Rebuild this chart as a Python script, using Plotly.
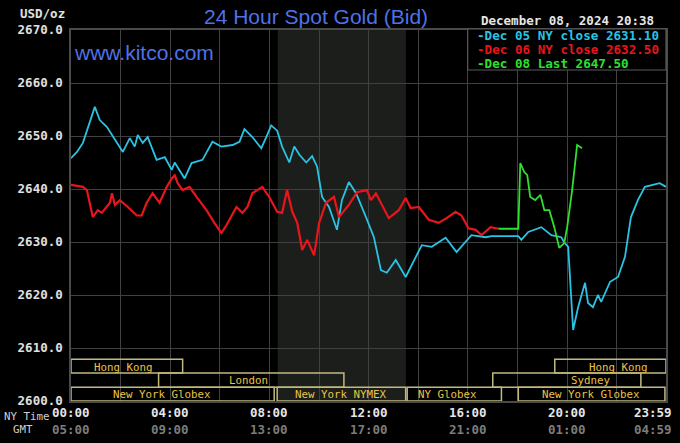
import plotly.graph_objects as go

# ---------------- data (hours since 00:00 NY time, USD/oz) ----------------
cyan_h = [0.00, 0.24, 0.48, 0.68, 0.96, 1.16, 1.45, 2.09, 2.37, 2.57, 2.69, 2.89, 3.09, 3.45, 3.78,
          4.06, 4.18, 4.58, 4.86, 5.30, 5.70, 6.06, 6.51, 6.79, 6.99, 7.31, 7.67, 7.87, 8.07, 8.31,
          8.51, 8.80, 9.00, 9.20, 9.48, 9.72, 9.92, 10.12, 10.40, 10.72, 10.92, 11.20, 11.49, 11.89,
          12.21, 12.49, 12.73, 13.09, 13.49, 13.90, 14.14, 14.54, 15.10, 15.54, 16.14, 16.71, 16.95,
          18.03, 18.15, 18.43, 18.96, 19.36, 19.76, 19.90, 20.04, 20.24, 20.44, 20.72, 20.84, 21.04,
          21.24, 21.37, 21.73, 22.05, 22.33, 22.57, 22.85, 23.13, 23.73, 23.98]
cyan_v = [2645.8, 2647.0, 2648.7, 2651.7, 2655.5, 2653.0, 2651.7, 2647.0, 2649.6, 2648.0, 2650.2, 2648.7,
          2649.8, 2645.5, 2646.0, 2643.6, 2645.0, 2642.0, 2644.9, 2645.5, 2648.9, 2648.0, 2648.3, 2648.9,
          2651.3, 2649.8, 2647.7, 2649.8, 2652.0, 2651.0, 2648.0, 2645.0, 2648.0, 2646.5, 2645.0, 2646.2,
          2644.2, 2638.5, 2636.6, 2632.3, 2637.9, 2641.3, 2639.2, 2634.7, 2630.9, 2624.7, 2624.2, 2626.6,
          2623.4, 2627.2, 2629.4, 2629.1, 2630.8, 2628.1, 2631.3, 2630.9, 2631.1, 2631.1, 2630.4, 2631.9,
          2632.8, 2631.3, 2630.9, 2629.8, 2629.1, 2613.4, 2617.7, 2622.3, 2618.5, 2617.7, 2620.0, 2618.7,
          2622.5, 2623.4, 2627.2, 2634.7, 2637.9, 2640.4, 2641.1, 2640.4]

red_h = [0.00, 0.48, 0.64, 0.88, 1.08, 1.24, 1.57, 1.65, 1.77, 1.97, 2.29, 2.65, 2.85, 3.05, 3.29, 3.57,
         3.86, 4.06, 4.18, 4.30, 4.50, 4.78, 5.06, 5.46, 5.78, 6.06, 6.27, 6.67, 6.91, 7.11, 7.31, 7.71,
         7.99, 8.31, 8.51, 8.71, 8.92, 9.12, 9.32, 9.52, 9.80, 10.00, 10.28, 10.60, 10.80, 11.20, 11.53,
         11.93, 12.09, 12.29, 12.81, 13.21, 13.49, 13.69, 14.02, 14.42, 14.82, 15.14, 15.50, 15.74,
         16.02, 16.31, 16.55, 16.91, 17.23]
red_v = [2640.8, 2640.4, 2639.8, 2634.7, 2636.0, 2635.5, 2637.4, 2639.2, 2637.0, 2637.9, 2636.6, 2635.0,
         2635.0, 2637.4, 2639.2, 2637.4, 2640.4, 2642.0, 2642.6, 2641.1, 2639.8, 2640.4, 2638.5, 2636.0,
         2633.6, 2631.7, 2633.2, 2636.6, 2635.5, 2636.6, 2639.2, 2640.4, 2638.5, 2635.7, 2635.5, 2639.8,
         2635.7, 2633.6, 2628.5, 2630.4, 2627.5, 2633.6, 2637.4, 2638.5, 2634.7, 2637.0, 2639.4, 2639.8,
         2637.9, 2639.2, 2634.5, 2636.0, 2638.3, 2636.4, 2636.6, 2634.2, 2633.6, 2634.5, 2635.7, 2635.0,
         2632.6, 2632.3, 2631.3, 2632.8, 2632.5]

green_h = [17.23, 18.03, 18.11, 18.27, 18.39, 18.51, 18.71, 18.92, 19.08, 19.28, 19.48, 19.68, 19.88,
           20.00, 20.20, 20.40, 20.60]
green_v = [2632.5, 2632.5, 2644.9, 2643.2, 2642.6, 2638.5, 2637.9, 2638.9, 2636.0, 2636.0, 2632.8,
           2628.9, 2629.8, 2632.8, 2639.8, 2648.3, 2647.7]

legend_labels = ["-Dec 05 NY close 2631.10", "-Dec 06 NY close 2632.50", "-Dec 08 Last 2647.50"]
line_colors = ["#2ac3e3", "#e8161c", "#2ee02e"]

ny_ticks = ["00:00", "04:00", "08:00", "12:00", "16:00", "20:00", "23:59"]
gmt_ticks = ["05:00", "09:00", "13:00", "17:00", "21:00", "01:00", "04:59"]
tick_hours = [0, 4, 8, 12, 16, 20, 23.983]

# sessions: (label, start hour, end hour, row, label hour)
sess_names = ["Hong Kong", "Hong Kong", "London", "Sydney", "New York Globex", "New York NYMEX",
              "NY Globex", "New York Globex"]
sess_start = [0.0, 19.5, 3.53, 17.0, 0.0, 8.31, 13.55, 18.03]
sess_end = [4.5, 23.983, 11.0, 22.97, 8.19, 13.49, 17.35, 23.94]
sess_row = [0, 0, 1, 1, 2, 2, 2, 2]
sess_lab = [2.13, 22.05, 7.15, 20.96, 3.65, 10.9, 15.18, 20.96]

row_top = [2607.9, 2605.3, 2602.6]
row_bot = [2605.3, 2602.6, 2600.0]
row_mid = [2606.4, 2603.8, 2601.3]

nymex = (8.333, 13.5)

# ---------------- figure ----------------
L, R, T, B = 71, 12, 30, 42
W, H = 680, 443
PW, PH = W - L - R, H - T - B


def px(xp):
    return (xp - L) / PW


def py(yp):
    return (H - B - yp) / PH


mono = "DejaVu Sans Mono"
fig = go.Figure()

fig.add_trace(go.Scatter(x=cyan_h, y=cyan_v, mode="lines",
                         line=dict(color=line_colors[0], width=1.8), hoverinfo="skip"))
fig.add_trace(go.Scatter(x=red_h, y=red_v, mode="lines",
                         line=dict(color=line_colors[1], width=2.2), hoverinfo="skip"))
fig.add_trace(go.Scatter(x=green_h, y=green_v, mode="lines",
                         line=dict(color=line_colors[2], width=1.8), hoverinfo="skip"))

shapes = []
shapes.append(dict(type="rect", xref="x", yref="y", x0=nymex[0], x1=nymex[1], y0=2600, y1=2670,
                   fillcolor="#1b1e1b", line=dict(width=0), layer="below"))
for i, nm in enumerate(sess_names):
    r = sess_row[i]
    shapes.append(dict(type="rect", xref="x", yref="y", x0=sess_start[i], x1=sess_end[i],
                       y0=row_bot[r], y1=row_top[r], fillcolor="rgba(0,0,0,0)",
                       line=dict(color="#c2b97f", width=1.5), layer="above"))
# legend box
shapes.append(dict(type="rect", xref="paper", yref="paper", x0=px(469), x1=px(668), y0=py(70), y1=py(29),
                   fillcolor="#000000", line=dict(color="#5a5a5a", width=1.2), layer="above"))

ann = []
for i, nm in enumerate(sess_names):
    ann.append(dict(x=sess_lab[i], y=row_mid[sess_row[i]], xref="x", yref="y", text=nm, showarrow=False,
                    font=dict(family=mono, size=10.8, color="#e8c346"), xanchor="center", yanchor="middle"))

# x tick labels, two rows
for i, h in enumerate(tick_hours):
    xa = "center"
    xx = h
    if i == len(tick_hours) - 1:
        ann.append(dict(x=px(676), y=py(413), xref="paper", yref="paper", text="<b>%s</b>" % ny_ticks[i],
                        showarrow=False, font=dict(family=mono, size=12.5, color="#e6e6e6"),
                        xanchor="right", yanchor="middle"))
        ann.append(dict(x=px(676), y=py(429), xref="paper", yref="paper", text="<b>%s</b>" % gmt_ticks[i],
                        showarrow=False, font=dict(family=mono, size=12.5, color="#7c7c7c"),
                        xanchor="right", yanchor="middle"))
        continue
    ann.append(dict(x=xx, y=py(413), xref="x", yref="paper", text="<b>%s</b>" % ny_ticks[i],
                    showarrow=False, font=dict(family=mono, size=12.5, color="#e6e6e6"),
                    xanchor=xa, yanchor="middle"))
    ann.append(dict(x=xx, y=py(429), xref="x", yref="paper", text="<b>%s</b>" % gmt_ticks[i],
                    showarrow=False, font=dict(family=mono, size=12.5, color="#7c7c7c"),
                    xanchor=xa, yanchor="middle"))

ann.append(dict(x=px(2), y=py(416), xref="paper", yref="paper", text="NY Time", showarrow=False,
                font=dict(family=mono, size=10.8, color="#d0d0d0"), xanchor="left", yanchor="middle"))
ann.append(dict(x=px(11), y=py(429), xref="paper", yref="paper", text="GMT", showarrow=False,
                font=dict(family=mono, size=10.8, color="#d0d0d0"), xanchor="left", yanchor="middle"))
ann.append(dict(x=px(67), y=py(14), xref="paper", yref="paper", text="<b>USD/oz</b>", showarrow=False,
                font=dict(family=mono, size=12.5, color="#e0e0e0"), xanchor="right", yanchor="middle"))
ann.append(dict(x=px(317), y=py(16), xref="paper", yref="paper", text="24 Hour Spot Gold (Bid)",
                showarrow=False, font=dict(family="Liberation Sans", size=21, color="#4f72e6"),
                xanchor="center", yanchor="middle"))
ann.append(dict(x=px(72), y=py(52), xref="paper", yref="paper", text="www.kitco.com",
                showarrow=False, font=dict(family="Liberation Sans", size=21, color="#4f72e6"),
                xanchor="left", yanchor="middle"))
ann.append(dict(x=px(569), y=py(21), xref="paper", yref="paper", text="<b>December 08, 2024 20:38</b>",
                showarrow=False, font=dict(family=mono, size=12.5, color="#e6e6e6"),
                xanchor="center", yanchor="middle"))
leg_y = [36, 49, 63]
for i, t in enumerate(legend_labels):
    ann.append(dict(x=px(476), y=py(leg_y[i]), xref="paper", yref="paper", text="<b>%s</b>" % t,
                    showarrow=False, font=dict(family=mono, size=12.6, color=line_colors[i]),
                    xanchor="left", yanchor="middle"))

fig.update_layout(
    width=W, height=H,
    margin=dict(l=L, r=R, t=T, b=B),
    paper_bgcolor="#000000", plot_bgcolor="#000000",
    showlegend=False,
    shapes=shapes, annotations=ann,
    xaxis=dict(range=[0, 23.983], dtick=2, tick0=0, showticklabels=False, showgrid=True,
               gridcolor="#404040", gridwidth=1.2, zeroline=False, showline=True, mirror=True,
               linecolor="#4a4a4a", linewidth=1.5, ticks=""),
    yaxis=dict(range=[2600, 2670], dtick=10, tick0=2600, tickformat=".1f", showgrid=True,
               gridcolor="#404040", gridwidth=1.2, zeroline=False, showline=True, mirror=True,
               linecolor="#4a4a4a", linewidth=1.5, ticks="", ticklabelstandoff=4,
               tickfont=dict(family=mono, size=12.5, color="#e0e0e0", weight="bold")),
)

fig.write_html("out.html")
